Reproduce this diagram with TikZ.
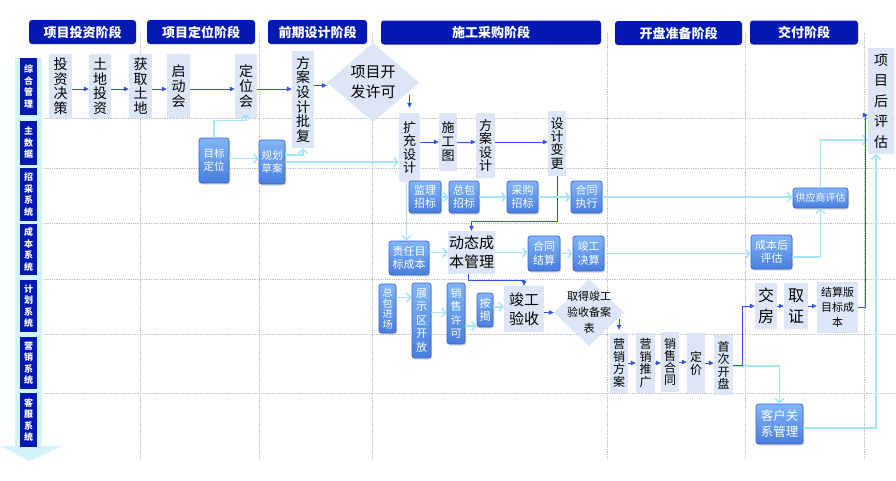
\documentclass[tikz,border=0pt]{standalone}
\usepackage{fontspec}
\setmainfont{Noto Sans CJK SC}
\usetikzlibrary{arrows.meta,shapes.geometric,shadows,calc}

\definecolor{hdr}{RGB}{4,24,180}
\definecolor{lblbg}{RGB}{212,243,253}
\definecolor{lfill}{RGB}{220,230,246}
\definecolor{btop}{RGB}{128,182,244}
\definecolor{bbot}{RGB}{72,126,222}
\definecolor{bbord}{RGB}{62,98,214}
\definecolor{larr}{RGB}{166,228,250}
\definecolor{barr}{RGB}{50,82,240}
\definecolor{gridc}{RGB}{190,190,190}

\tikzset{
 wh/.style 2 args={minimum width=#1pt,minimum height=#2pt},
 fs/.style 2 args={font=\fontsize{#1}{#2}\selectfont},
 hdrbox/.style={fill=hdr, rounded corners=3pt, text=white, font=\fontsize{13}{15}\selectfont\bfseries, inner sep=0},
 rowlbl/.style={fill=hdr, text=white, font=\fontsize{9}{11.5}\selectfont\bfseries, align=center, inner sep=0},
 lbox/.style={fill=lfill, align=center, inner sep=0, text=black},
 bbox/.style={top color=btop, bottom color=bbot, draw=bbord, line width=0.7pt, rounded corners=2.5pt, align=center, inner sep=0, text=white, drop shadow={shadow xshift=1pt, shadow yshift=-1.5pt, opacity=0.3}},
 ldia/.style={diamond, fill=lfill, inner sep=0},
 larrow/.style={draw=larr, line width=1.6pt, -{Straight Barb[length=4pt,width=9pt]}},
 barrow/.style={draw=barr, line width=0.8pt, -{Triangle[length=5pt,width=4.5pt]}},
 gridl/.style={draw=gridc, densely dotted, line width=0.8pt},
}

\begin{document}
\begin{tikzpicture}[x=1pt,y=-1pt]
\useasboundingbox (0,0) rectangle (896,480);

% left column
\fill[lblbg] (15,58) rectangle (42,446);
\fill[lblbg] (0,446) -- (63,446) -- (29,461) -- cycle;

% grid
\foreach \yy in {118,168,223,279,334,393} \draw[gridl] (43,\yy) -- (896,\yy);
\foreach \xx in {140,259,372,607,745,864} \draw[gridl] (\xx,33) -- (\xx,458);

% headers
\node[hdrbox, wh={107}{24}] (h1) at (82.5,32) {项目投资阶段};
\node[hdrbox, wh={108}{24}] (h2) at (201,32) {项目定位阶段};
\node[hdrbox, wh={99}{24}] (h3) at (317.5,32) {前期设计阶段};
\node[hdrbox, wh={220}{24}] (h4) at (491,32.5) {施工采购阶段};
\node[hdrbox, wh={127}{24}] (h5) at (678.5,33) {开盘准备阶段};
\node[hdrbox, wh={108}{24}] (h6) at (804,32.5) {交付阶段};

% row labels
\node[rowlbl, wh={17}{57}] (r1) at (28.5,86.5) {综\\合\\管\\理};
\node[rowlbl, wh={17}{44}] (r2) at (28.5,143) {主\\数\\据};
\node[rowlbl, wh={17}{53}] (r3) at (28.5,194.5) {招\\采\\系\\统};
\node[rowlbl, wh={17}{51}] (r4) at (28.5,249.5) {成\\本\\系\\统};
\node[rowlbl, wh={17}{52}] (r5) at (28.5,306) {计\\划\\系\\统};
\node[rowlbl, wh={17}{52}] (r6) at (28.5,363) {营\\销\\系\\统};
\node[rowlbl, wh={17}{54}] (r7) at (28.5,420) {客\\服\\系\\统};

% row 1
\node[lbox, wh={23}{64}, fs={14}{14.5}] (tzjc) at (60.5,86) {投\\资\\决\\策};
\node[lbox, wh={22}{64}, fs={14}{14.5}] (tdtz) at (100,86) {土\\地\\投\\资};
\node[lbox, wh={23}{64}, fs={14}{14.5}] (hqtd) at (140.5,86) {获\\取\\土\\地};
\node[lbox, wh={23}{64}, fs={14}{15}] (qdh) at (178.5,86) {启\\动\\会};
\node[lbox, wh={22}{64}, fs={14}{15}] (dwh) at (246,86) {定\\位\\会};
\node[lbox, wh={22}{97}, fs={14}{14.7}] (fasj) at (303,99.5) {方\\案\\设\\计\\批\\复};
\node[ldia, wh={92}{79}, label={[fs={15}{20}, align=center]center:项目开\\发许可}] (xkfx) at (373,82.5) {};
\node[lbox, wh={26}{106}, fs={14}{20.5}] (xmhpg) at (881,101) {项\\目\\后\\评\\估};

% row 2
\node[lbox, wh={21}{69}, fs={13}{13.3}] (kcsj) at (409.5,147.5) {扩\\充\\设\\计};
\node[lbox, wh={18}{58}, fs={13}{14}] (sgt) at (448,142) {施\\工\\图};
\node[lbox, wh={19}{65}, fs={13}{13.3}] (fasj2) at (485.5,145.5) {方\\案\\设\\计};
\node[lbox, wh={18}{65}, fs={13}{13.3}] (sjbg) at (557,143.5) {设\\计\\变\\更};
\node[bbox, wh={30}{45}, fs={10.5}{13}] (mbdw) at (214,160.5) {目标\\定位};
\node[bbox, wh={26}{44}, fs={10.5}{13}] (ghca) at (272,162) {规划\\草案};

% row 3
\node[bbox, wh={32}{32}, fs={11}{13.5}] (jlzb) at (425,197) {监理\\招标};
\node[bbox, wh={30}{32}, fs={11}{13.5}] (zbzb) at (464,197) {总包\\招标};
\node[bbox, wh={31}{32}, fs={11}{13.5}] (cgzb) at (522.5,197) {采购\\招标};
\node[bbox, wh={31}{32}, fs={11}{13.5}] (htzx) at (586.5,197) {合同\\执行};
\node[bbox, wh={55}{20}, fs={10}{12}] (gyspg) at (820.5,198) {供应商评估};

% row 4
\node[bbox, wh={40}{34}, fs={11}{13.5}] (zrmb) at (409,258) {责任目\\标成本};
\node[lbox, wh={47}{43}, fs={15}{19}] (dtcb) at (471.5,252.5) {动态成\\本管理};
\node[bbox, wh={32}{35}, fs={11}{13.5}] (htjs) at (544,253.5) {合同\\结算};
\node[bbox, wh={31}{35}, fs={11}{13.5}] (jgjs) at (588.5,253.5) {竣工\\决算};
\node[bbox, wh={41}{34}, fs={11}{13.5}] (cbhpg) at (771.5,252) {成本后\\评估};

% row 5
\node[bbox, wh={17}{49}, fs={10}{10.5}] (zbjc) at (387.5,308.5) {总\\包\\进\\场};
\node[bbox, wh={19}{75}, fs={11}{13.5}] (zsq) at (421.5,320.5) {展\\示\\区\\开\\放};
\node[bbox, wh={18}{61}, fs={11}{13.5}] (xsxk) at (456,313.5) {销\\售\\许\\可};
\node[bbox, wh={16}{34}, fs={11}{13.5}] (aj) at (485,310) {按\\揭};
\node[lbox, wh={40}{46}, fs={15}{19}] (jgys) at (524,309) {竣工\\验收};
\node[ldia, wh={70}{67}, label={[fs={11}{16}, align=center]center:取得竣工\\验收备案\\表}] (qdjg) at (589,312.5) {};
\node[lbox, wh={22}{46}, fs={16}{21}] (jf) at (766,306) {交\\房};
\node[lbox, wh={24}{46}, fs={16}{21}] (qz) at (796,306) {取\\证};
\node[lbox, wh={41}{51}, fs={11}{15}] (jsb) at (837.5,307.5) {结算版\\目标成\\本};

% row 6
\node[lbox, wh={18}{60}, fs={12}{12.5}] (yxfa) at (619,363) {营\\销\\方\\案};
\node[lbox, wh={19}{60}, fs={12}{12.5}] (yxtg) at (645.5,363) {营\\销\\推\\广};
\node[lbox, wh={18}{60}, fs={12}{12}] (xsht) at (670,362) {销\\售\\合\\同};
\node[lbox, wh={18}{60}, fs={12}{13}] (dj) at (696,363) {定\\价};
\node[lbox, wh={19}{60}, fs={12}{12.5}] (sckp) at (723.5,365) {首\\次\\开\\盘};

% row 7
\node[bbox, wh={47}{40}, fs={12.5}{16}] (khgx) at (779.5,424) {客户关\\系管理};

% ---- connectors ----
% row 1
\draw[barrow] ([yshift=-3pt]tzjc.east) -- ([yshift=-3pt]tdtz.west);
\draw[barrow] ([yshift=-3pt]tdtz.east) -- ([yshift=-3pt]hqtd.west);
\draw[barrow] ([yshift=-3pt]hqtd.east) -- ([yshift=-3pt]qdh.west);
\draw[barrow] ([yshift=-3pt]qdh.east) -- ([yshift=-3pt]dwh.west);
\draw[barrow] ([yshift=-3pt]dwh.east) -- ([yshift=-3pt]dwh.east -| fasj.west);
\draw[barrow] ([yshift=-3pt]fasj.east |- xkfx.west) -- ([yshift=-3pt]xkfx.west);
\draw[barrow] ([yshift=18pt]kcsj.north) -- ([yshift=5pt]kcsj.north);

% master data
\draw[larrow] (mbdw.north) -- ++(0,-17) -| ([yshift=4pt]dwh.south);
\draw[larrow] ([yshift=2pt]mbdw.east) -- ([yshift=2pt]mbdw.east -| ghca.west);
\draw[larrow] ([yshift=7pt]ghca.east) -| (fasj.south);
\draw[larrow] (ghca.east) -- (ghca.east -| kcsj.west);

% row 2
\draw[barrow] (sgt.west -| kcsj.east) -- (sgt.west);
\draw[barrow] (sgt.east) -- (sgt.east -| fasj2.west);
\draw[barrow] (sgt.east -| fasj2.east) -- (sgt.east -| sjbg.west);
\draw[larrow] ([xshift=-3pt]kcsj.south) -- ([xshift=-3pt]kcsj.south |- zrmb.north);
\draw[barrow] (sjbg.south) -- ++(0,45) -| (dtcb.north);

% row 3
\draw[larrow] (jlzb.east) -- (zbzb.west);
\draw[larrow] (zbzb.east) -- (cgzb.west);
\draw[larrow] (cgzb.east) -- (htzx.west);
\draw[larrow] (htzx.east) -- (htzx.east -| gyspg.west);

% row 4
\draw[larrow] (dtcb.west -| zrmb.east) -- (dtcb.west);
\draw[larrow] (dtcb.east) -- (dtcb.east -| htjs.west);
\draw[larrow] (htjs.east) -- (jgjs.west);
\draw[larrow] (jgjs.east) -- (jgjs.east -| cbhpg.west);
\draw[larrow] ([yshift=-5pt]cbhpg.east) -| (gyspg.south);
\draw[larrow] (gyspg.north) |- ([yshift=-39pt]xmhpg.west);
\draw[barrow] ([xshift=-3pt]dtcb.south) -- ++(0,6) -| (jgys.north);

% row 5
\draw[larrow] ([yshift=11pt]zbjc.east) -- ([yshift=11pt]zbjc.east -| zsq.west);
\draw[larrow] ([yshift=8pt]zsq.east) -- ([yshift=8pt]zsq.east -| xsxk.west);
\draw[larrow] ([yshift=-12.5pt]xsxk.east) -- ([yshift=-12.5pt]xsxk.east -| aj.west);
\draw[larrow] ([yshift=3pt]aj.east) -- ([yshift=3pt]aj.east -| jgys.west);
\draw[barrow] (jgys.east |- qdjg.west) -- (qdjg.west);
\draw[barrow] ([yshift=14pt]yxfa.north) -- ([yshift=3pt]yxfa.north);
\draw[barrow] (jf.east) -- (qz.west);
\draw[barrow] (qz.east) -- (qz.east -| jsb.west);
\draw[barrow] (jsb.east) -- ++(7,0) |- ([yshift=-14pt]xmhpg.west);

% row 6
\draw[barrow] (yxfa.east) -- (yxfa.east -| yxtg.west);
\draw[barrow] (yxtg.east) -- (yxtg.east -| xsht.west);
\draw[barrow] (xsht.east) -- (xsht.east -| dj.west);
\draw[barrow] (dj.east) -- (dj.east -| sckp.west);
\draw[larrow] ([yshift=-1pt]sckp.east) -| (khgx.north);
\draw[barrow] (sckp.east) -- ++(9,0) |- (jf.west);

% row 7
\draw[larrow] ([yshift=-4pt]khgx.east) -| ([xshift=-5pt]xmhpg.south);
\end{tikzpicture}
\end{document}
